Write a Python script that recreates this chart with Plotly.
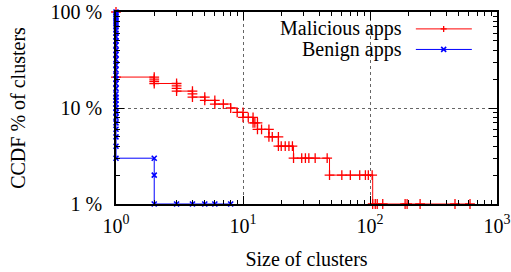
import plotly.graph_objects as go

# Malicious apps: cluster size vs CCDF (%)
mal_x = [1, 1, 2, 2, 2, 2, 3, 3, 3, 3, 4, 4, 4, 5, 5, 6, 6, 7, 8, 9, 10, 10, 11, 12, 12,
         12.4, 13, 13, 14, 16, 16, 17, 19, 19, 20, 21.5, 23, 24.5, 25, 29, 31, 33, 37, 46,
         48, 60, 70, 83, 92, 97, 104, 105, 110, 114, 126, 189, 196, 248, 467, 613]
mal_y = [100, 21, 21, 20, 19, 18, 18, 17, 16, 15, 15, 14, 13, 13, 12, 12, 11, 11, 10, 9, 9, 8, 8, 8, 7,
         7, 7, 6, 6, 6, 5, 5, 5, 4, 4, 4, 4, 4, 3, 3, 3, 3, 3, 3,
         2, 2, 2, 2, 2, 2, 2, 1, 1, 1, 1, 1, 1, 1, 1, 1]

# Benign apps
ben_x = [1] * 33 + [2, 2, 2, 3, 4, 5, 6, 8]
ben_y = [100, 95, 90, 85, 80, 75, 70, 65, 60, 55, 50, 45, 40, 36, 32, 28, 25, 22, 20, 18,
         16, 14, 13, 12, 11, 10, 9, 8, 7, 6, 5, 4, 3,
         3, 2, 1, 1, 1, 1, 1, 1]

x_tickvals = [1, 10, 100, 1000]
x_ticktext = ["10<sup>0</sup>", "10<sup>1</sup>", "10<sup>2</sup>", "10<sup>3</sup>"]
y_tickvals = [1, 10, 100]
y_ticktext = ["1 %", "10 %", "100 %"]

series_names = ["Malicious apps", "Benign apps"]
series_colors = ["#ff0000", "#0000ff"]

FONT = "Liberation Serif"

fig = go.Figure()
fig.add_trace(go.Scatter(
    x=mal_x, y=mal_y, mode="lines+markers", line=dict(color=series_colors[0], width=1, shape="hv"),
    marker=dict(symbol="cross-thin", size=7, line=dict(color=series_colors[0], width=1.3)),
    cliponaxis=False, showlegend=False, name=series_names[0]))
fig.add_trace(go.Scatter(
    x=ben_x, y=ben_y, mode="lines+markers", line=dict(color=series_colors[1], width=1, shape="hv"),
    marker=dict(symbol="x-thin", size=5, line=dict(color=series_colors[1], width=1.6)),
    cliponaxis=False, showlegend=False, name=series_names[1]))

axis_common = dict(
    showline=True, linecolor="black", linewidth=1.5, mirror="allticks",
    ticks="inside", ticklen=8, tickcolor="black", tickwidth=1,
    showgrid=True, gridcolor="#666666", griddash="dot", gridwidth=1,
    zeroline=False, automargin=False, ticklabeloverflow="allow",
    tickfont=dict(family=FONT, size=20, color="black"),
    minor=dict(ticks="inside", ticklen=4, tickcolor="black", dtick="D1", showgrid=False),
)

fig.update_xaxes(type="log", range=[0, 3], tickvals=x_tickvals, ticktext=x_ticktext,
                 ticklabelstandoff=3,
                 title=dict(text="Size of clusters", font=dict(family=FONT, size=20, color="black"), standoff=16),
                 **axis_common)
fig.update_yaxes(type="log", range=[0, 2], tickvals=y_tickvals, ticktext=y_ticktext,
                 ticklabelstandoff=8,
                 title=dict(text="CCDF % of clusters", font=dict(family=FONT, size=20, color="black"), standoff=20),
                 **axis_common)

# manual legend (text left of line sample, as in reference)
leg_y = [0.912, 0.805]
txt_x = 0.755
line_x0, line_x1, mark_x = 0.787, 0.934, 0.86
for i, (name, col) in enumerate(zip(series_names, series_colors)):
    fig.add_annotation(x=txt_x, y=leg_y[i], xref="paper", yref="paper", text=name,
                       showarrow=False, xanchor="right", yanchor="middle",
                       font=dict(family=FONT, size=20, color="black"))
    fig.add_shape(type="line", xref="paper", yref="paper", x0=line_x0, x1=line_x1,
                  y0=leg_y[i], y1=leg_y[i], line=dict(color=col, width=1))
    if i == 0:
        segs = [(-3, 0, 3, 0), (0, -3, 0, 3)]
        w = 1.3
    else:
        segs = [(-2.5, -2.5, 2.5, 2.5), (-2.5, 2.5, 2.5, -2.5)]
        w = 1.6
    for (a, b, c, d) in segs:
        fig.add_shape(type="line", xref="paper", yref="paper",
                      xsizemode="pixel", ysizemode="pixel", xanchor=mark_x, yanchor=leg_y[i],
                      x0=a, x1=c, y0=b, y1=d, line=dict(color=col, width=w))

fig.update_layout(
    width=511, height=272,
    margin=dict(l=116, r=14, t=12, b=68),
    paper_bgcolor="white", plot_bgcolor="white",
    font=dict(family=FONT, size=20, color="black"),
)

fig.write_html("out.html", post_script="document.body.style.margin='0';",
               config={"displayModeBar": False})
